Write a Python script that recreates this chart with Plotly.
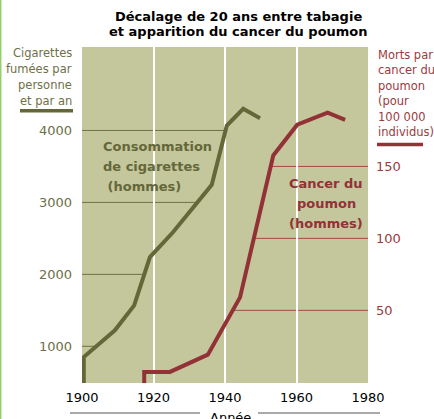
import numpy as np
import plotly.graph_objects as go

# ---- data ----
cig_years = [1900.5, 1900.5, 1909.2, 1914.6, 1919.0, 1925.5, 1936.3, 1940.5, 1945.1, 1949.8]
cig_values = [450, 851, 1222, 1569, 2240, 2588, 3245, 4069, 4301, 4171]

cancer_years = [1917.4, 1917.4, 1924.6, 1935.2, 1944.2, 1953.5, 1960.2, 1968.7, 1973.6]
cancer_values = [-3, 7.2, 7.2, 19.2, 59, 157.6, 179, 187.3, 182.4]

x_ticks = [1900, 1920, 1940, 1960, 1980]
left_ticks = [1000, 2000, 3000, 4000]
right_ticks = [50, 100, 150]

title_lines = ["Décalage de 20 ans entre tabagie", "et apparition du cancer du poumon"]
left_title = ["Cigarettes", "fumées par", "personne", "et par an"]
right_title = ["Morts par", "cancer du", "poumon", "(pour", "100 000", "individus)"]
cig_label = ["Consommation", "de cigarettes", "\u00a0(hommes)"]
cancer_label = ["Cancer du", "poumon", "(hommes)"]
x_title = "Année"

# ---- style ----
W, H = 434, 419
L, R, T, B = 82, 368, 47, 383
BG = "#C4C69C"
OLIVE = "#646839"
OLIVE_TXT = "#6E7047"
RED = "#923237"
RED_TXT = "#9C3B40"
FONT = "DejaVu Sans"


def px(x):
    return (x - L) / (R - L)


def py(y):
    return (B - y) / (B - T)


fig = go.Figure()
fig.add_trace(go.Scatter(x=cig_years, y=cig_values, mode="lines",
                         line=dict(color=OLIVE, width=4), yaxis="y",
                         hoverinfo="skip", showlegend=False))
fig.add_trace(go.Scatter(x=cancer_years, y=cancer_values, mode="lines",
                         line=dict(color=RED, width=4), yaxis="y2",
                         hoverinfo="skip", showlegend=False))

shapes = []
# partial horizontal guide lines from axis to the curve (computed from data)
peak = int(np.argmax(cig_values))
for v in left_ticks:
    xc = float(np.interp(v, cig_values[1:peak + 1], cig_years[1:peak + 1]))
    shapes.append(dict(type="line", xref="x", yref="y", x0=1900, x1=xc, y0=v, y1=v,
                       line=dict(color=OLIVE_TXT, width=1), layer="below"))
cpeak = int(np.argmax(cancer_values))
for v in right_ticks:
    xc = float(np.interp(v, cancer_values[1:cpeak + 1], cancer_years[1:cpeak + 1]))
    shapes.append(dict(type="line", xref="x", yref="y2", x0=xc, x1=1980, y0=v, y1=v,
                       line=dict(color="#A5484D", width=1), layer="below"))

# legend-like bars under axis titles
shapes.append(dict(type="line", xref="paper", yref="paper", x0=px(20), x1=px(73),
                   y0=py(110.7), y1=py(110.7), line=dict(color=OLIVE, width=3.5)))
shapes.append(dict(type="line", xref="paper", yref="paper", x0=px(377), x1=px(423),
                   y0=py(144.5), y1=py(144.5), line=dict(color=RED, width=3.5)))
# axis-title rules
shapes.append(dict(type="line", xref="paper", yref="paper", x0=px(70), x1=px(200),
                   y0=py(413), y1=py(413), line=dict(color="#555555", width=1)))
shapes.append(dict(type="line", xref="paper", yref="paper", x0=px(258), x1=px(380),
                   y0=py(413), y1=py(413), line=dict(color="#555555", width=1)))
# left page border
shapes.append(dict(type="line", xref="paper", yref="paper", x0=px(0.7), x1=px(0.7),
                   y0=py(0), y1=py(419), line=dict(color="#92D06E", width=1.5)))

annotations = []


def add_text(text, x, y, size, color, bold=False, xanchor="center"):
    t = f"<b>{text}</b>" if bold else text
    annotations.append(dict(text=t, xref="paper", yref="paper", x=px(x), y=py(y),
                            xanchor=xanchor, yanchor="middle", showarrow=False,
                            font=dict(family=FONT, size=size, color=color)))


for i, s in enumerate(title_lines):
    add_text(s, 238, 16 + 16 * i, 13, "black", bold=True)
for i, s in enumerate(left_title):
    add_text(s, 74, 53 + 16 * i, 11.5, OLIVE_TXT, xanchor="right")
for i, s in enumerate(right_title):
    add_text(s, 376, 55 + 15.4 * i, 11.5, RED_TXT, xanchor="left")
for i, s in enumerate(cig_label):
    add_text(s, 101, 146 + 20 * i, 13, OLIVE, bold=True, xanchor="left")
for i, s in enumerate(cancer_label):
    add_text(s, 326, 183 + 20 * i, 13, RED, bold=True)
add_text(x_title, 230, 417, 13, "black")

fig.update_layout(
    width=W, height=H,
    margin=dict(l=L, r=W - R, t=T, b=H - B, pad=0),
    paper_bgcolor="white", plot_bgcolor=BG,
    font=dict(family=FONT),
    showlegend=False,
    shapes=shapes, annotations=annotations,
    xaxis=dict(range=[1900, 1980], tickvals=x_ticks, showgrid=True, gridcolor="white",
               gridwidth=1.5, zeroline=False, showline=False, ticks="",
               ticklabelstandoff=5, automargin=False,
               tickfont=dict(family=FONT, size=13, color="black"), fixedrange=True),
    yaxis=dict(range=[490, 5160], tickvals=left_ticks, showgrid=False, zeroline=False,
               showline=False, ticks="", ticklabelstandoff=9, automargin=False,
               tickfont=dict(family=FONT, size=13, color=OLIVE_TXT)),
    yaxis2=dict(range=[-0.5, 233], tickvals=right_ticks, overlaying="y", side="right",
                showgrid=False, zeroline=False, showline=False, ticks="",
                ticklabelstandoff=7, automargin=False,
                tickfont=dict(family=FONT, size=13, color=RED_TXT)),
)

fig.write_html("out.html", config={"displayModeBar": False},
               post_script="document.body.style.margin='0px';document.body.style.overflow='hidden';")
